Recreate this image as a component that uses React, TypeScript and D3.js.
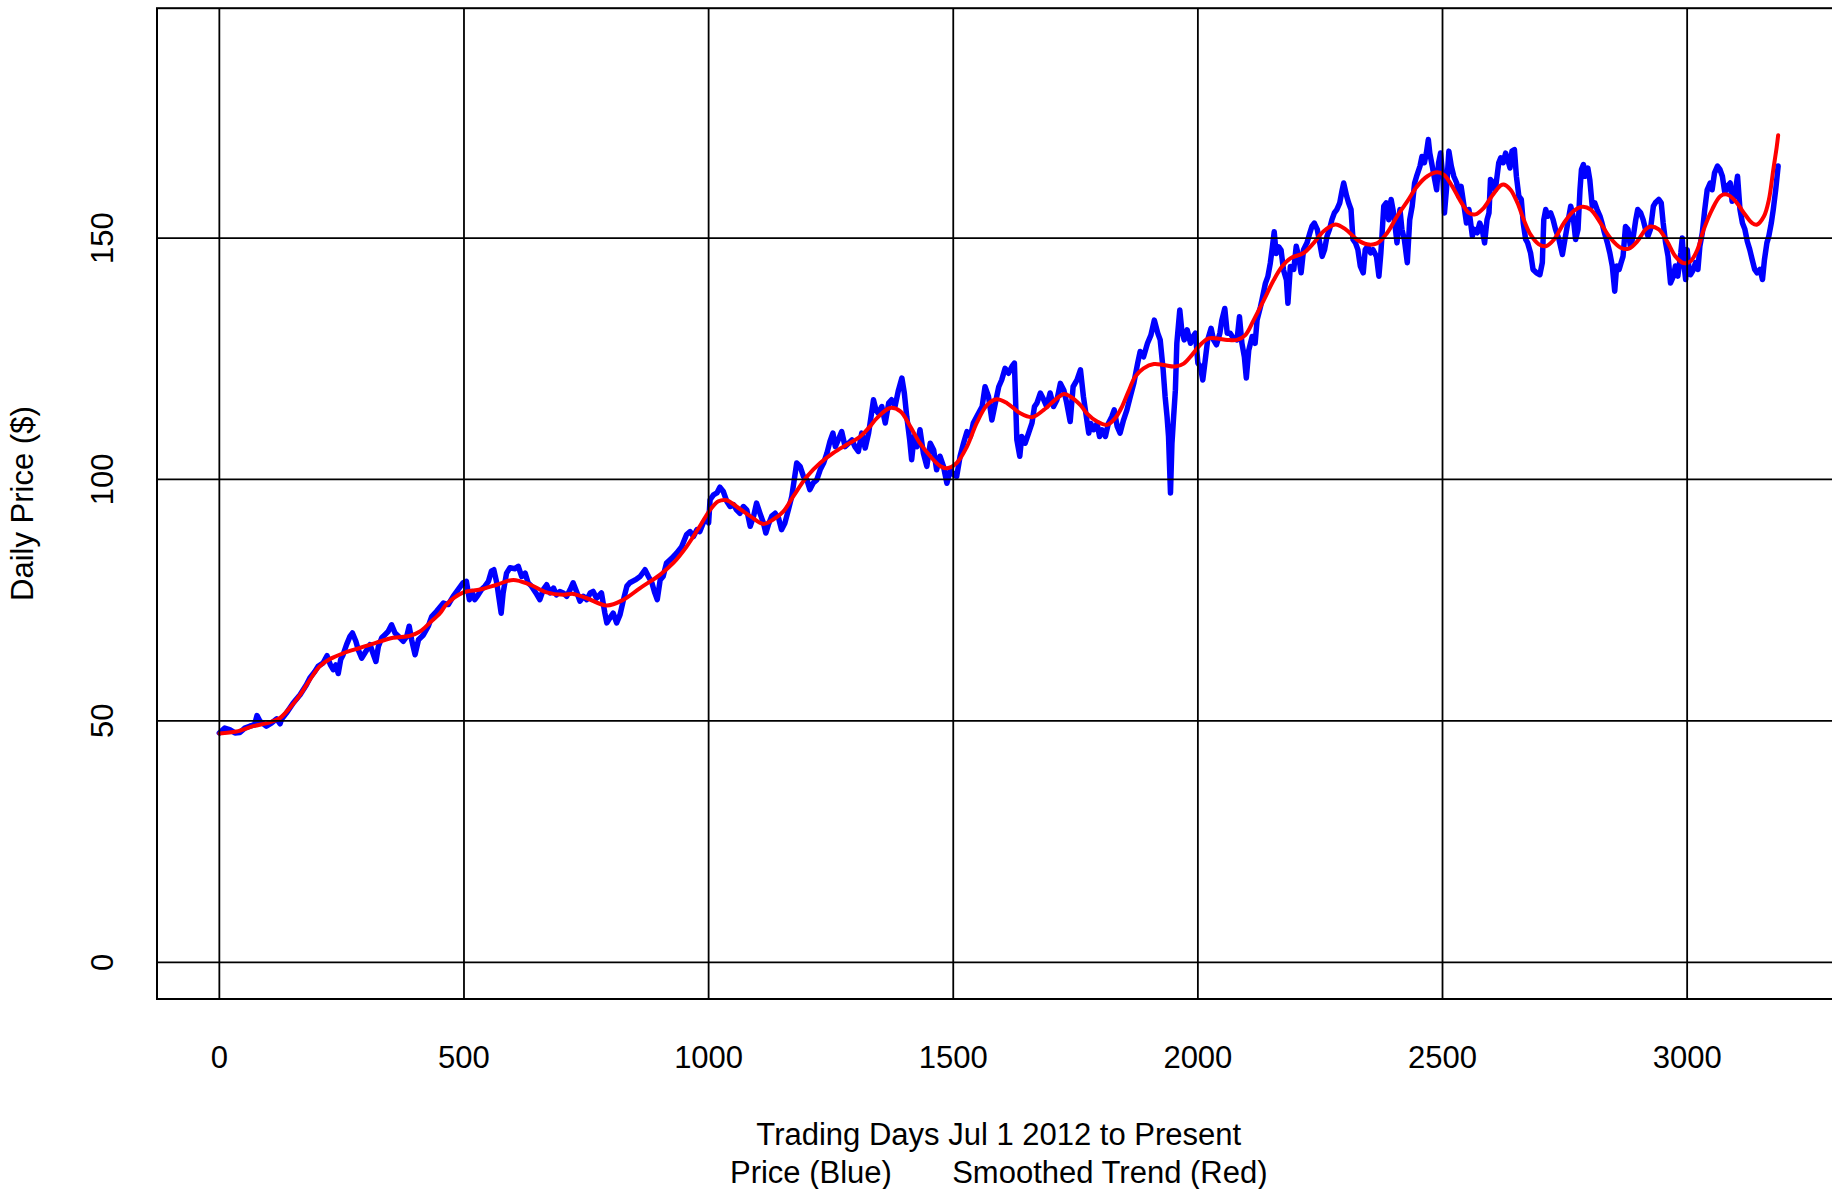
import React, { useEffect, useRef } from 'react';
import * as d3 from 'd3';

const WIDTH = 1832;
const HEIGHT = 1189;

// plot region in pixels (right edge runs past the image, like the original)
const PLOT_LEFT = 157;
const PLOT_RIGHT = 1840.5;
const PLOT_TOP = 8.2;
const PLOT_BOTTOM = 999;

const FONT = '"Liberation Sans", Arial, Helvetica, sans-serif';

const xTicks = [0, 500, 1000, 1500, 2000, 2500, 3000];
const yTicks = [0, 50, 100, 150];
const yLimits = [0, 190];

const xTitle = 'Trading Days Jul 1 2012 to Present';
const legendText = 'Price (Blue)       Smoothed Trend (Red)';
const yTitle = 'Daily Price ($)';

// daily price (blue)
const priceDays = [
  0, 11, 21, 32, 42, 52, 62, 72, 77, 83, 90, 96, 107, 117, 124, 127, 137, 151, 165, 178,
  185, 195, 202, 212, 220, 227, 233, 238, 243, 248, 253, 260, 267, 272, 279, 284, 291, 297, 308, 314,
  320, 325, 332, 338, 345, 352, 359, 369, 376, 383, 388, 393, 400, 407, 417, 427, 434, 444, 458, 468,
  478, 488, 498, 505, 511, 516, 522, 529, 536, 543, 550, 556, 561, 567, 571, 576, 580, 587, 594, 604,
  611, 618, 625, 631, 638, 647, 655, 662, 669, 676, 683, 689, 696, 703, 710, 717, 723, 730, 737, 744,
  751, 758, 764, 771, 781, 788, 792, 798, 805, 812, 819, 826, 833, 839, 850, 860, 870, 877, 884, 890,
  895, 901, 907, 914, 925, 935, 945, 955, 962, 969, 976, 982, 989, 996, 1000, 1003, 1010, 1017, 1023, 1030,
  1037, 1044, 1051, 1057, 1064, 1071, 1078, 1085, 1092, 1098, 1105, 1112, 1117, 1122, 1129, 1136, 1143, 1149, 1156, 1163,
  1170, 1175, 1180, 1187, 1194, 1201, 1207, 1214, 1221, 1228, 1235, 1242, 1248, 1254, 1259, 1265, 1272, 1279, 1286, 1293,
  1299, 1306, 1313, 1320, 1327, 1332, 1337, 1342, 1347, 1354, 1361, 1368, 1374, 1381, 1388, 1395, 1400, 1405, 1411, 1415,
  1420, 1426, 1432, 1439, 1446, 1453, 1460, 1466, 1473, 1480, 1487, 1494, 1501, 1507, 1514, 1521, 1528, 1535, 1541, 1548,
  1559, 1565, 1572, 1579, 1586, 1593, 1599, 1606, 1613, 1620, 1625, 1630, 1636, 1640, 1647, 1654, 1661, 1666, 1671, 1678,
  1685, 1691, 1698, 1705, 1712, 1719, 1726, 1732, 1739, 1745, 1753, 1760, 1766, 1772, 1777, 1781, 1787, 1794, 1799, 1804,
  1811, 1817, 1824, 1829, 1835, 1841, 1848, 1855, 1862, 1869, 1877, 1882, 1889, 1897, 1904, 1911, 1918, 1923, 1929, 1933,
  1937, 1940, 1944, 1947, 1950, 1954, 1957, 1963, 1967, 1972, 1978, 1985, 1990, 1995, 2000, 2005, 2010, 2015, 2020, 2027,
  2032, 2038, 2045, 2049, 2055, 2060, 2066, 2073, 2080, 2085, 2090, 2095, 2099, 2104, 2111, 2117, 2121, 2128, 2131, 2138,
  2143, 2148, 2152, 2156, 2160, 2165, 2170, 2175, 2181, 2184, 2189, 2196, 2201, 2206, 2211, 2216, 2223, 2229, 2233, 2238,
  2244, 2249, 2254, 2259, 2264, 2269, 2274, 2279, 2284, 2290, 2295, 2298, 2304, 2308, 2313, 2317, 2322, 2327, 2332, 2338,
  2342, 2347, 2353, 2358, 2365, 2370, 2374, 2380, 2385, 2390, 2395, 2400, 2407, 2413, 2417, 2422, 2428, 2433, 2438, 2443,
  2448, 2454, 2458, 2463, 2467, 2471, 2474, 2479, 2484, 2488, 2492, 2496, 2501, 2504, 2508, 2513, 2518, 2523, 2529, 2533,
  2538, 2544, 2549, 2554, 2561, 2565, 2571, 2576, 2581, 2586, 2591, 2595, 2598, 2604, 2608, 2615, 2619, 2624, 2629, 2633,
  2638, 2642, 2647, 2651, 2656, 2661, 2665, 2670, 2674, 2680, 2685, 2692, 2699, 2704, 2707, 2711, 2715, 2721, 2726, 2731,
  2738, 2745, 2749, 2756, 2762, 2767, 2772, 2777, 2781, 2784, 2788, 2792, 2797, 2801, 2806, 2811, 2816, 2822, 2826, 2831,
  2837, 2842, 2847, 2852, 2856, 2861, 2865, 2869, 2874, 2879, 2884, 2890, 2895, 2899, 2905, 2910, 2915, 2920, 2925, 2931,
  2935, 2942, 2947, 2951, 2956, 2961, 2966, 2972, 2976, 2981, 2987, 2990, 2993, 2997, 3000, 3004, 3007, 3013, 3017, 3022,
  3026, 3031, 3036, 3041, 3047, 3051, 3056, 3062, 3067, 3072, 3077, 3082, 3088, 3092, 3097, 3103, 3108, 3113, 3118, 3123,
  3128, 3133, 3138, 3143, 3149, 3154, 3158, 3163, 3167, 3172, 3176, 3181, 3186,
];

const priceValues = [
  47.5, 48.5, 48.2, 47.5, 47.6, 48.5, 48.9, 49.2, 51.1, 49.9, 49.4, 48.9, 49.6, 50.4, 49.4, 50.3, 51.6, 53.7, 55.4, 57.5,
  58.9, 60.2, 61.3, 62.0, 63.5, 61.6, 60.6, 61.6, 59.8, 62.7, 63.7, 65.8, 67.5, 68.2, 66.5, 64.7, 63.0, 64.0, 65.8, 64.0,
  62.3, 65.4, 67.2, 67.8, 68.5, 69.9, 68.2, 67.2, 66.5, 67.5, 69.6, 66.8, 63.7, 66.8, 67.8, 69.6, 71.6, 72.7, 74.4, 74.1,
  75.8, 77.2, 78.6, 78.9, 75.1, 76.8, 75.1, 76.1, 77.2, 77.9, 78.9, 81.0, 81.3, 78.6, 75.8, 72.3, 76.5, 80.6, 81.7, 81.5,
  82.0, 79.9, 80.6, 78.6, 77.9, 76.5, 75.1, 77.2, 78.2, 76.5, 77.5, 76.1, 76.8, 76.5, 75.8, 77.2, 78.6, 76.8, 74.8, 75.8,
  75.1, 76.5, 76.8, 75.4, 76.5, 72.3, 70.3, 71.3, 72.3, 70.3, 72.0, 75.1, 77.9, 78.6, 79.2, 79.9, 81.3, 79.9, 78.6, 76.5,
  75.1, 79.2, 79.9, 82.7, 83.7, 84.8, 86.1, 88.6, 89.2, 88.2, 89.6, 89.2, 91.0, 92.0, 91.0, 95.8, 96.8, 97.2, 98.4, 97.5,
  95.5, 94.4, 94.8, 93.7, 93.0, 94.4, 93.7, 90.3, 92.4, 95.1, 93.0, 91.0, 88.9, 90.6, 92.4, 93.0, 92.0, 89.6, 91.0, 93.7,
  96.5, 99.9, 103.4, 102.7, 100.6, 99.9, 97.9, 99.3, 99.9, 102.0, 103.4, 105.5, 107.9, 109.6, 106.8, 108.2, 109.9, 106.8, 107.5, 108.2,
  106.8, 105.8, 109.6, 106.5, 109.6, 113.0, 116.5, 114.4, 113.7, 115.1, 111.7, 115.8, 116.5, 115.1, 118.5, 121.0, 117.9, 113.0, 108.2, 104.1,
  108.9, 106.8, 110.3, 105.4, 102.7, 107.5, 106.1, 102.0, 104.8, 102.7, 99.2, 102.0, 101.0, 100.6, 104.8, 107.5, 109.9, 108.9, 111.7, 113.0,
  115.1, 119.2, 117.2, 112.3, 115.8, 119.2, 120.6, 123.0, 122.0, 123.4, 124.1, 108.2, 104.8, 108.9, 107.5, 109.6, 111.7, 115.1, 115.8, 117.9,
  116.5, 115.1, 117.9, 115.1, 116.5, 119.9, 118.5, 115.8, 112.0, 119.2, 120.6, 122.7, 117.2, 113.0, 109.6, 111.6, 110.3, 111.6, 108.9, 110.3,
  108.9, 111.6, 113.0, 114.4, 111.0, 109.6, 112.3, 114.4, 117.2, 119.9, 124.1, 126.5, 125.4, 128.2, 129.9, 133.0, 130.3, 128.9, 122.7, 117.2,
  113.0, 108.9, 97.2, 107.5, 112.3, 118.5, 128.2, 135.1, 131.0, 128.9, 131.0, 128.2, 129.6, 130.3, 124.1, 123.4, 120.6, 124.7, 128.9, 131.3,
  128.9, 127.9, 130.3, 133.0, 135.4, 130.3, 130.3, 129.2, 128.9, 133.7, 128.2, 125.4, 121.0, 126.8, 129.6, 128.2, 133.0, 135.8, 137.2, 140.6,
  142.0, 144.8, 147.9, 151.3, 146.8, 148.2, 147.5, 143.4, 141.3, 136.5, 144.1, 143.5, 148.3, 146.2, 142.8, 147.6, 149.0, 151.1, 152.4, 153.1,
  151.8, 149.0, 146.2, 147.6, 150.4, 151.8, 153.8, 155.2, 155.9, 157.3, 160.0, 161.4, 158.7, 157.3, 155.9, 149.7, 149.0, 147.6, 144.2, 142.8,
  147.6, 148.3, 146.9, 147.6, 146.2, 142.1, 146.9, 156.6, 157.3, 153.8, 158.0, 155.2, 149.0, 155.9, 151.8, 149.7, 144.9, 153.8, 156.6, 161.4,
  163.1, 164.9, 166.9, 165.6, 167.6, 170.4, 167.6, 164.9, 162.1, 160.0, 165.6, 167.6, 162.1, 155.2, 160.0, 168.0, 164.9, 162.8, 161.4, 158.7,
  160.7, 156.6, 153.1, 155.9, 150.4, 151.8, 151.1, 153.1, 151.8, 149.0, 153.8, 155.2, 162.1, 161.4, 160.0, 165.6, 166.6, 165.6, 167.6, 166.3,
  164.5, 168.0, 168.3, 162.8, 158.7, 158.0, 153.1, 149.7, 149.0, 146.9, 143.5, 142.8, 142.4, 144.9, 153.8, 155.9, 154.5, 155.2, 153.8, 151.8,
  149.7, 146.6, 149.0, 153.1, 156.6, 154.5, 149.7, 151.8, 160.0, 164.2, 165.2, 162.8, 164.5, 162.1, 156.6, 157.3, 155.9, 154.5, 153.1, 151.1,
  149.0, 146.9, 144.2, 139.0, 144.2, 143.5, 144.9, 146.2, 152.4, 151.8, 148.3, 150.4, 153.8, 155.9, 155.2, 153.8, 151.8, 150.4, 151.8, 156.6,
  157.3, 158.0, 157.3, 153.1, 149.0, 146.2, 140.7, 142.1, 144.2, 142.1, 146.9, 150.0, 144.9, 141.4, 147.6, 143.5, 142.4, 143.5, 144.9, 143.5,
  148.3, 151.1, 155.9, 160.0, 161.4, 160.0, 163.5, 164.9, 164.2, 162.8, 159.4, 160.7, 161.4, 157.6, 158.7, 162.8, 155.9, 153.1, 151.8, 149.3,
  147.6, 145.5, 143.5, 142.8, 143.5, 141.4, 145.5, 149.0, 150.4, 153.1, 155.9, 160.0, 164.9,
];

// smoothed trend (red)
const trendDays = [
  0, 35, 69, 103, 124, 144, 165, 185, 205, 226, 253, 287, 321, 355, 389, 410, 430, 451, 464, 499,
  533, 567, 601, 635, 669, 703, 723, 751, 792, 826, 860, 901, 928, 955, 982, 1003, 1020, 1037, 1057, 1085,
  1112, 1132, 1153, 1173, 1201, 1228, 1255, 1282, 1310, 1330, 1344, 1371, 1392, 1412, 1432, 1453, 1473, 1487, 1507, 1528,
  1548, 1569, 1589, 1610, 1637, 1661, 1685, 1712, 1726, 1739, 1760, 1773, 1794, 1814, 1831, 1845, 1858, 1872, 1889, 1910,
  1930, 1954, 1971, 1988, 2005, 2022, 2039, 2060, 2080, 2097, 2114, 2135, 2155, 2172, 2189, 2216, 2237, 2257, 2281, 2302,
  2325, 2346, 2366, 2387, 2407, 2428, 2448, 2469, 2489, 2503, 2520, 2537, 2554, 2567, 2584, 2601, 2619, 2625, 2639, 2653,
  2666, 2680, 2697, 2711, 2728, 2748, 2768, 2786, 2803, 2823, 2843, 2864, 2881, 2898, 2915, 2925, 2942, 2959, 2976, 2993,
  3007, 3021, 3034, 3051, 3068, 3082, 3099, 3116, 3133, 3143, 3157, 3167, 3176, 3183, 3186,
];

const trendValues = [
  47.4, 47.8, 48.9, 49.7, 50.6, 52.7, 55.4, 58.5, 61.3, 62.8, 64.0, 65.1, 66.2, 67.2, 67.6, 68.5, 70.3, 72.3, 74.1, 76.6,
  77.2, 78.2, 79.2, 78.2, 76.6, 76.1, 76.3, 75.4, 73.9, 75.1, 77.5, 80.3, 82.7, 86.1, 90.3, 93.7, 95.5, 95.7, 94.4, 92.4,
  90.8, 91.7, 93.4, 96.5, 100.6, 103.4, 105.5, 107.2, 108.9, 111.0, 112.7, 114.8, 114.1, 111.0, 107.5, 104.8, 102.8, 102.3, 103.4, 106.8,
  111.7, 115.4, 116.6, 115.8, 113.7, 112.9, 114.4, 116.8, 117.7, 117.2, 115.4, 113.7, 112.0, 111.3, 112.7, 115.1, 118.2, 121.3, 123.0, 123.9,
  123.7, 123.4, 124.0, 125.8, 127.9, 129.2, 129.2, 128.9, 128.9, 129.9, 133.0, 137.2, 141.3, 144.1, 145.8, 146.9, 149.0, 151.4, 152.8, 151.8,
  149.7, 148.7, 148.9, 151.1, 154.5, 157.6, 160.7, 162.8, 163.6, 163.1, 160.7, 157.6, 155.2, 154.9, 156.2, 158.7, 160.9, 161.1, 160.0, 157.3,
  153.8, 150.7, 148.7, 148.3, 149.7, 153.1, 155.6, 156.5, 155.9, 153.1, 150.0, 148.0, 147.8, 149.3, 151.8, 152.4, 151.8, 149.3, 146.2, 144.8,
  145.2, 147.6, 151.8, 155.9, 158.7, 159.0, 157.6, 155.2, 153.1, 152.8, 154.5, 157.9, 164.1, 168.8, 171.3,
];

const App: React.FC = () => {
  const svgRef = useRef<SVGSVGElement>(null);

  useEffect(() => {
    if (!svgRef.current) return;
    const svg = d3.select(svgRef.current);
    svg.selectAll('*').remove();

    // R style 4% range extension on both axes
    const dayMax = d3.max(priceDays) as number;
    const xPad = dayMax * 0.04;
    const x = d3.scaleLinear()
      .domain([-xPad, dayMax + xPad])
      .range([PLOT_LEFT, PLOT_RIGHT]);

    const yPad = (yLimits[1] - yLimits[0]) * 0.04;
    const y = d3.scaleLinear()
      .domain([yLimits[0] - yPad, yLimits[1] + yPad])
      .range([PLOT_BOTTOM, PLOT_TOP]);

    svg.append('rect')
      .attr('width', WIDTH)
      .attr('height', HEIGHT)
      .attr('fill', '#ffffff');

    const price = priceDays.map((d, i) => [d, priceValues[i]] as [number, number]);
    const trend = trendDays.map((d, i) => [d, trendValues[i]] as [number, number]);

    const priceLine = d3.line<[number, number]>()
      .x(d => x(d[0]))
      .y(d => y(d[1]));

    const trendLine = d3.line<[number, number]>()
      .x(d => x(d[0]))
      .y(d => y(d[1]))
      .curve(d3.curveCatmullRom.alpha(0.5));

    svg.append('path')
      .datum(price)
      .attr('d', priceLine)
      .attr('fill', 'none')
      .attr('stroke', '#0000ff')
      .attr('stroke-width', 5.5)
      .attr('stroke-linejoin', 'round')
      .attr('stroke-linecap', 'round');

    svg.append('path')
      .datum(trend)
      .attr('d', trendLine)
      .attr('fill', 'none')
      .attr('stroke', '#ff0000')
      .attr('stroke-width', 4)
      .attr('stroke-linejoin', 'round')
      .attr('stroke-linecap', 'round');

    // grid lines on top, like abline()
    const grid = svg.append('g').attr('stroke', '#000000').attr('stroke-width', 1.8);
    grid.selectAll('.vgrid')
      .data(xTicks)
      .enter().append('line')
      .attr('x1', d => x(d)).attr('x2', d => x(d))
      .attr('y1', PLOT_TOP).attr('y2', PLOT_BOTTOM);
    grid.selectAll('.hgrid')
      .data(yTicks)
      .enter().append('line')
      .attr('x1', PLOT_LEFT).attr('x2', PLOT_RIGHT)
      .attr('y1', d => y(d)).attr('y2', d => y(d));

    // box
    svg.append('rect')
      .attr('x', PLOT_LEFT)
      .attr('y', PLOT_TOP)
      .attr('width', PLOT_RIGHT - PLOT_LEFT)
      .attr('height', PLOT_BOTTOM - PLOT_TOP)
      .attr('fill', 'none')
      .attr('stroke', '#000000')
      .attr('stroke-width', 2);

    const text = svg.append('g')
      .attr('font-family', FONT)
      .attr('font-size', 31)
      .attr('fill', '#000000');

    // x tick labels (no tick marks)
    text.selectAll('.xlab')
      .data(xTicks)
      .enter().append('text')
      .attr('x', d => x(d))
      .attr('y', 1068)
      .attr('text-anchor', 'middle')
      .text(d => String(d));

    // y tick labels, rotated
    text.selectAll('.ylab')
      .data(yTicks)
      .enter().append('text')
      .attr('transform', d => `translate(112.5, ${y(d)}) rotate(-90)`)
      .attr('text-anchor', 'middle')
      .text(d => String(d));

    const midX = (PLOT_LEFT + PLOT_RIGHT) / 2;
    text.append('text')
      .attr('x', midX)
      .attr('y', 1145)
      .attr('text-anchor', 'middle')
      .text(xTitle);

    text.append('text')
      .attr('x', midX)
      .attr('y', 1183)
      .attr('text-anchor', 'middle')
      .style('white-space', 'pre')
      .text(legendText);

    text.append('text')
      .attr('transform', `translate(33, ${(PLOT_TOP + PLOT_BOTTOM) / 2}) rotate(-90)`)
      .attr('text-anchor', 'middle')
      .text(yTitle);
  }, []);

  return (
    <div style={{ position: 'absolute', left: 0, top: 0, width: WIDTH, height: HEIGHT, overflow: 'hidden' }}>
      <svg ref={svgRef} width={WIDTH} height={HEIGHT} style={{ display: 'block' }} />
    </div>
  );
};

export default App;
